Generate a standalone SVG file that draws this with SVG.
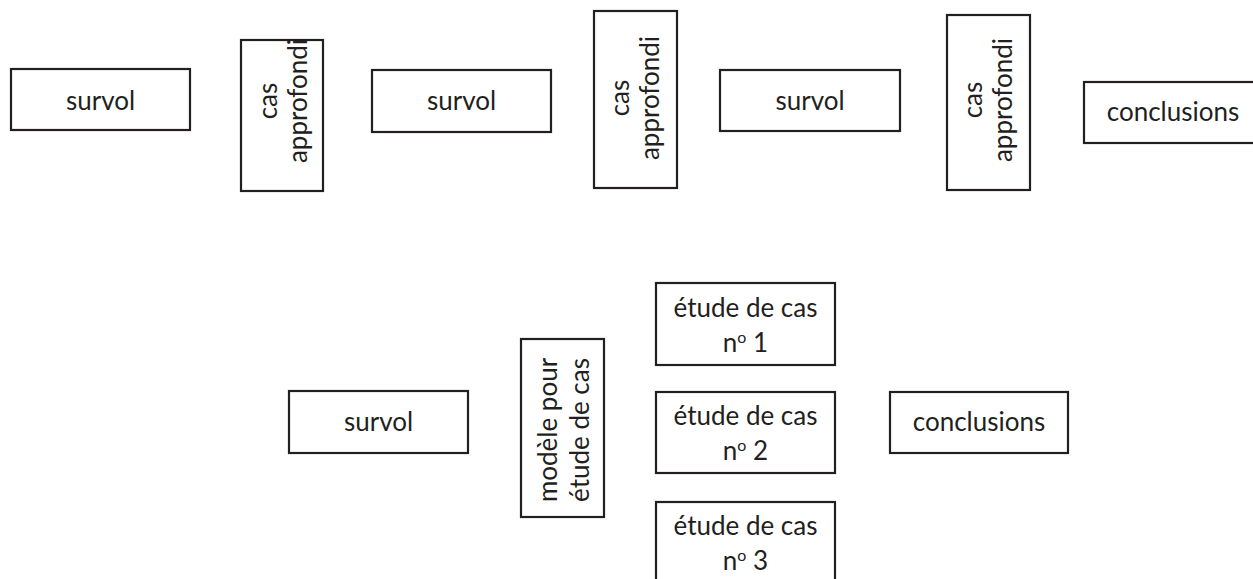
<svg xmlns="http://www.w3.org/2000/svg" width="1253" height="579" viewBox="0 0 1253 579">
  <style>
    .box { fill: #ffffff; stroke: #231f20; stroke-width: 2.2; }
    .lbl { font-family: Lato, "Liberation Sans", sans-serif; font-size: 26px; fill: #231f20; text-anchor: middle; }
    .sup { font-size: 16px; }
  </style>
  <rect width="1253" height="579" fill="#ffffff"/>

  <!-- top sequence: survol / cas approfondi alternating -->
  <g id="survol-1">
    <rect class="box" x="11" y="69" width="179" height="61"/>
    <text class="lbl" x="100.5" y="110">survol</text>
  </g>
  <g id="cas-1">
    <rect class="box" x="241" y="40" width="82" height="151"/>
    <text class="lbl" transform="translate(277,101) rotate(-90)">cas</text>
    <text class="lbl" transform="translate(307,101) rotate(-90)">approfondi</text>
  </g>
  <g id="survol-2">
    <rect class="box" x="372" y="70" width="179" height="62"/>
    <text class="lbl" x="461.5" y="110">survol</text>
  </g>
  <g id="cas-2">
    <rect class="box" x="594" y="11" width="83" height="177"/>
    <text class="lbl" transform="translate(629,98) rotate(-90)">cas</text>
    <text class="lbl" transform="translate(659,98) rotate(-90)">approfondi</text>
  </g>
  <g id="survol-3">
    <rect class="box" x="720" y="70" width="180" height="61"/>
    <text class="lbl" x="810" y="110">survol</text>
  </g>
  <g id="cas-3">
    <rect class="box" x="947" y="15" width="83" height="175"/>
    <text class="lbl" transform="translate(982,100) rotate(-90)">cas</text>
    <text class="lbl" transform="translate(1012,100) rotate(-90)">approfondi</text>
  </g>
  <g id="conclusions-1">
    <rect class="box" x="1084" y="82" width="172" height="61"/>
    <text class="lbl" x="1173" y="121">conclusions</text>
  </g>

  <!-- bottom sequence: survol, model, parallel case studies, conclusions -->
  <g id="survol-4">
    <rect class="box" x="289" y="391" width="179" height="62"/>
    <text class="lbl" x="378.5" y="431">survol</text>
  </g>
  <g id="modele">
    <rect class="box" x="521" y="339" width="83" height="178"/>
    <text class="lbl" transform="translate(557,430) rotate(-90)">modèle pour</text>
    <text class="lbl" transform="translate(589,430) rotate(-90)">étude de cas</text>
  </g>
  <g id="etude-1">
    <rect class="box" x="656" y="283" width="179" height="82"/>
    <text class="lbl" x="745.5" y="317">étude de cas</text>
    <text class="lbl" x="745.5" y="352">n<tspan class="sup" dy="-9">o</tspan><tspan dy="9"> 1</tspan></text>
  </g>
  <g id="etude-2">
    <rect class="box" x="656" y="392" width="179" height="81"/>
    <text class="lbl" x="745.5" y="425">étude de cas</text>
    <text class="lbl" x="745.5" y="460">n<tspan class="sup" dy="-9">o</tspan><tspan dy="9"> 2</tspan></text>
  </g>
  <g id="etude-3">
    <rect class="box" x="656" y="502" width="179" height="90"/>
    <text class="lbl" x="745.5" y="535">étude de cas</text>
    <text class="lbl" x="745.5" y="570">n<tspan class="sup" dy="-9">o</tspan><tspan dy="9"> 3</tspan></text>
  </g>
  <g id="conclusions-2">
    <rect class="box" x="890" y="392" width="178" height="61"/>
    <text class="lbl" x="979" y="431">conclusions</text>
  </g>

  <g id="connectors"/>
</svg>
